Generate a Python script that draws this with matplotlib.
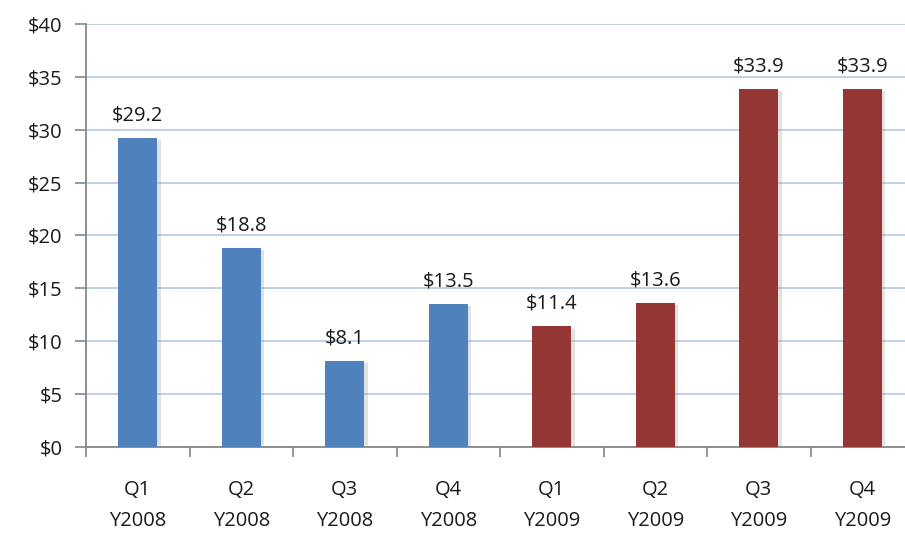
import numpy as np
import matplotlib
matplotlib.use("Agg")
import matplotlib.pyplot as plt
import matplotlib.patheffects as pe

# quarterly values
quarters = ["Q1", "Q2", "Q3", "Q4", "Q1", "Q2", "Q3", "Q4"]
years = ["Y2008"] * 4 + ["Y2009"] * 4
values = [29.2, 18.8, 8.1, 13.5, 11.4, 13.6, 33.9, 33.9]
bar_colors = ["#4F81BD"] * 4 + ["#943634"] * 4
y_ticks = [0, 5, 10, 15, 20, 25, 30, 35, 40]

plt.rcParams["font.family"] = ["Open Sans", "DejaVu Sans"]

fig = plt.figure(figsize=(9.05, 5.45), dpi=100)
ax = fig.add_axes([86 / 905, 98 / 545, 828 / 905, 423 / 545])

x = np.arange(len(values))
shadow = [pe.SimplePatchShadow(offset=(2.5, -1.5), shadow_rgbFace="#a0a0a0", alpha=0.3), pe.Normal()]
bars = ax.bar(x, values, width=0.38, color=bar_colors, zorder=3)
for b in bars:
    b.set_path_effects(shadow)

# data labels
for xi, v in zip(x, values):
    ax.annotate("$%.1f" % v, (xi, v), xytext=(0, 9), textcoords="offset points",
                ha="center", va="bottom", fontsize=14.5, color="#1a1a1a")

ax.set_xlim(-0.5, len(values) - 0.5)
ax.set_ylim(0, 40)
ax.set_yticks(y_ticks)
ax.set_yticklabels(["$%d" % t for t in y_ticks], fontsize=14.5, color="#1a1a1a")

# category boundaries get the tick marks, centres get the labels
ax.set_xticks(np.arange(len(values) + 1) - 0.5)
ax.set_xticklabels([])
ax.set_xticks(x, minor=True)
ax.set_xticklabels([q + "\n" + y for q, y in zip(quarters, years)], minor=True,
                   fontsize=14.5, color="#1a1a1a", linespacing=1.7)
ax.tick_params(axis="x", which="major", length=7, width=1.2, color="#868686", direction="out")
ax.tick_params(axis="x", which="minor", length=0, pad=24)
ax.tick_params(axis="y", length=8, width=1.2, color="#868686", direction="out", pad=9)

ax.grid(axis="y", color="#B9CDE5", linewidth=1.3, zorder=0)
ax.set_axisbelow(True)
for s in ["top", "right"]:
    ax.spines[s].set_visible(False)
ax.spines["left"].set_color("#868686")
ax.spines["bottom"].set_color("#868686")
ax.spines["left"].set_linewidth(1.3)
ax.spines["bottom"].set_linewidth(1.3)

fig.savefig("out.png", dpi=100)
